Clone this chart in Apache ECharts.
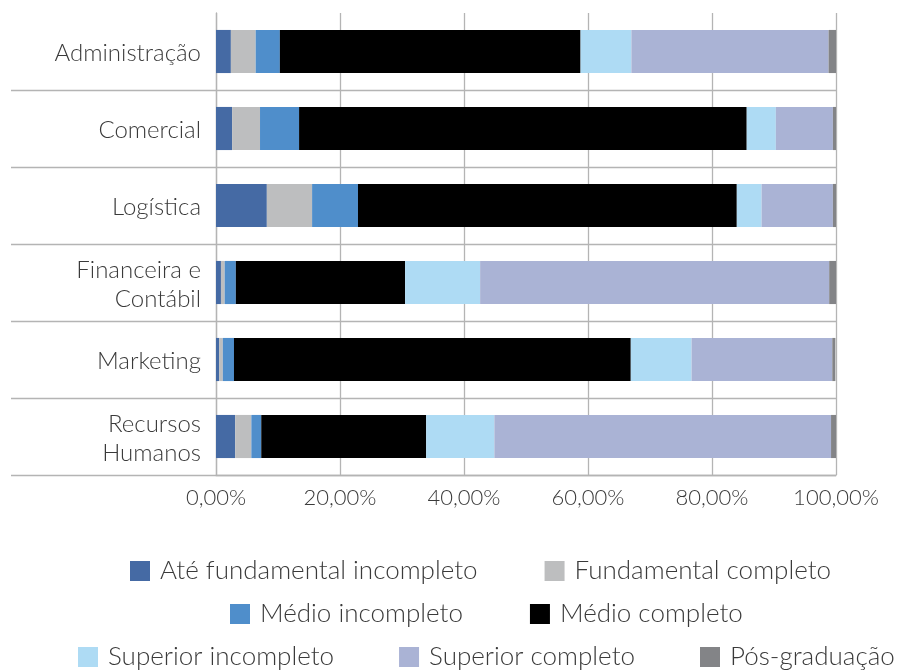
<!DOCTYPE html>
<html>
<head>
<meta charset="utf-8">
<script src="https://cdn.jsdelivr.net/npm/echarts@6/dist/echarts.min.js"></script>
<style>
  html, body { margin: 0; padding: 0; background: #fff; }
  #main { width: 897px; height: 670px; }
</style>
</head>
<body>
<div id="main"></div>
<script>
var areas = ['Administração', 'Comercial', 'Logística', 'Financeira e\nContábil', 'Marketing', 'Recursos\nHumanos'];

var ateFundIncompleto = [2.4, 2.6, 8.2, 0.8, 0.5, 3.1];
var fundCompleto      = [4.0, 4.5, 7.3, 0.6, 0.6, 2.6];
var medioIncompleto   = [3.9, 6.3, 7.4, 1.8, 1.8, 1.6];
var medioCompleto     = [48.5, 72.2, 61.1, 27.3, 64.0, 26.6];
var superiorIncompleto = [8.2, 4.7, 4.0, 12.1, 9.8, 11.0];
var superiorCompleto  = [31.8, 9.2, 11.5, 56.3, 22.7, 54.3];
var posGraduacao      = [1.2, 0.8, 0.5, 1.2, 0.5, 0.8];

var seriesNames = ['Até fundamental incompleto', 'Fundamental completo', 'Médio incompleto',
    'Médio completo', 'Superior incompleto', 'Superior completo', 'Pós-graduação'];
var seriesData = [ateFundIncompleto, fundCompleto, medioIncompleto, medioCompleto,
    superiorIncompleto, superiorCompleto, posGraduacao];
var colors = ['#456aa4', '#bdbebf', '#4f8ecb', '#000000', '#aedbf4', '#aab3d5', '#838487'];

var font = 'Lato';
var textColor = '#3a3a3a';
var lineColor = '#b4b4b4';

var myChart = echarts.init(document.getElementById('main'));

// skip the first boundary so no tick sits on top of the plot
function skipFirst(index) {
    return index > 0;
}

var series = [];
for (var i = 0; i < seriesNames.length; i++) {
    series.push({
        name: seriesNames[i],
        type: 'bar',
        stack: 'total',
        barCategoryGap: '44%',
        itemStyle: {color: colors[i]},
        data: seriesData[i]
    });
}

function legendRow(names, left, top, gap) {
    return {
        data: names,
        top: top,
        left: left,
        width: 890,
        padding: 0,
        itemWidth: 20,
        itemHeight: 20,
        itemGap: gap,
        icon: 'rect',
        textStyle: {fontFamily: font, fontWeight: 300, fontSize: 26, color: textColor, padding: [0, 0, 0, 5]}
    };
}

var option = {
    animation: false,
    color: colors,
    grid: {left: 216, top: 13, right: 61, bottom: 195},
    legend: [
        legendRow(seriesNames.slice(0, 2), 130, 558, 67),
        legendRow(seriesNames.slice(2, 4), 230, 601, 67),
        legendRow(seriesNames.slice(4, 7), 78, 644, 65)
    ],
    xAxis: {
        type: 'value',
        min: 0,
        max: 100,
        interval: 20,
        axisLine: {show: true, lineStyle: {color: lineColor, width: 1.3}},
        axisTick: {show: false},
        splitLine: {show: true, lineStyle: {color: lineColor, width: 1.3}},
        axisLabel: {
            margin: 12,
            fontFamily: font, fontWeight: 300, fontSize: 22, color: textColor,
            formatter: function (v) {
                return v.toFixed(2).replace('.', ',') + '%';
            }
        }
    },
    yAxis: {
        type: 'category',
        inverse: true,
        data: areas,
        axisLine: {show: true, lineStyle: {color: lineColor, width: 1.3}},
        axisTick: {show: true, length: 205, interval: skipFirst, lineStyle: {color: lineColor, width: 1.3}},
        splitLine: {show: true, showMinLine: false, lineStyle: {color: lineColor, width: 1.3}},
        axisLabel: {
            margin: 15,
            formatter: function (v) {
                return v.split('\n').map(function (s) { return '{a|' + s + '}'; }).join('\n');
            },
            rich: {
                a: {
                    fontFamily: font, fontWeight: 300, fontSize: 24, lineHeight: 29,
                    padding: [4, 0, 0, 0], color: textColor, align: 'right'
                }
            }
        }
    },
    series: series
};

myChart.setOption(option);
</script>
</body>
</html>
